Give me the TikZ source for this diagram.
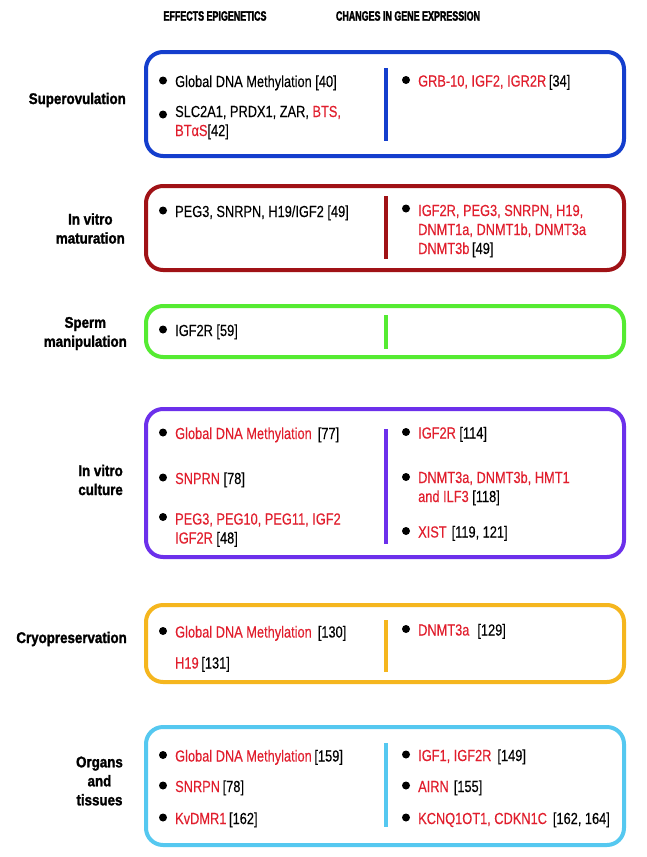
\documentclass[tikz,border=0pt]{standalone}
\usepackage{fontspec}
\setmainfont{Liberation Sans}[FakeStretch=0.8, FakeBold=0.3]
\newfontfamily\labfont{Liberation Sans}[FakeStretch=0.86, FakeBold=1.5]
\newfontfamily\hdrfont{Liberation Sans}[FakeStretch=0.66, FakeBold=2]
\definecolor{cblue}{RGB}{20,62,205}
\definecolor{cdred}{RGB}{160,18,22}
\definecolor{cgreen}{RGB}{85,235,50}
\definecolor{cpurple}{RGB}{108,48,235}
\definecolor{cgold}{RGB}{245,182,30}
\definecolor{clblue}{RGB}{85,200,240}
\definecolor{txtred}{RGB}{225,30,45}
\newcommand\rd[1]{\textcolor{txtred}{#1}}
% name, x, first baseline, text
\newcommand\bitem[4]{%
  \node[bul] (#1b) at (#2-12,#3-6.5) {};
  \node[item] (#1) at (#2,#3) {#4};}
% name, x, first baseline, last baseline, text (multi-line)
\newcommand\mitem[5]{%
  \node[bul] (#1b) at (#2-12,#3-6.5) {};
  \node[item] (#1) at (#2,#4) {#5};}
\begin{document}
\begin{tikzpicture}[x=1pt,y=-1pt,
  box/.style={draw, line width=4pt, rounded corners=17pt},
  divider/.style={line width=3.5pt},
  item/.style={anchor=base west, inner sep=0pt, align=left, text=black,
    font=\fontsize{16}{19}\selectfont},
  bul/.style={circle, fill=black, inner sep=0pt, minimum size=8pt},
  lab/.style={font=\labfont\bfseries\fontsize{15.5}{19}\selectfont, align=center, inner sep=0pt, anchor=east},
  hdr/.style={font=\hdrfont\bfseries\fontsize{13.5}{15}\selectfont, inner sep=0pt, anchor=center}
]
\useasboundingbox[fill=white] (0,0) rectangle (646,857);

% headers
\node[hdr] (h1) at (215,16) {EFFECTS EPIGENETICS};
\node[hdr] (h2) at (408,16) {CHANGES IN GENE EXPRESSION};

% row labels
\node[lab] (l1) at (126,100) {Superovulation};
\node[lab] (l2) at (125,228.5) {In vitro\\maturation};
\node[lab] (l3) at (127,333.5) {Sperm\\manipulation};
\node[lab, align=right] (l4) at (123,480) {In vitro\\culture};
\node[lab] (l5) at (127,639) {Cryopreservation};
\node[lab] (l6) at (123,781) {Organs\\and\\tissues};

% boxes
\draw[box, cblue]   (146,52)  rectangle (624,156);
\draw[box, cdred]   (146,186) rectangle (624,270);
\draw[box, cgreen]  (146,306) rectangle (624,357);
\draw[box, cpurple] (146,409) rectangle (624,557);
\draw[box, cgold]   (146,605) rectangle (624,682);
\draw[box, clblue]  (146,727) rectangle (624,845);

% dividers
\draw[divider, cblue]   (386,68)  -- (386,141);
\draw[divider, cdred]   (386,196) -- (386,259);
\draw[divider, cgreen]  (386,315) -- (386,349);
\draw[divider, cpurple] (386,429) -- (386,544);
\draw[divider, cgold]   (386,620) -- (386,672);
\draw[divider, clblue]  (386,743) -- (386,827);

% box 1
\bitem{a1}{175}{87}{Global DNA Methylation [40]}
\mitem{a2}{175}{121}{136}{\fontsize{16}{15}\selectfont SLC2A1, PRDX1, ZAR, \rd{BTS,}\\\rd{BTαS}[42]}
\bitem{a3}{418}{86.5}{\rd{GRB-10, IGF2, IGR2R}\,[34]}

% box 2
\bitem{b1}{175}{217}{PEG3, SNRPN, H19/IGF2 [49]}
\mitem{b2}{418}{215}{254}{\fontsize{16}{19.5}\selectfont\rd{IGF2R, PEG3, SNRPN, H19,}\\\rd{DNMT1a, DNMT1b, DNMT3a}\\\rd{DNMT3b}\,[49]}

% box 3
\bitem{c1}{175}{336}{IGF2R [59]}

% box 4
\bitem{d1}{175}{439}{\rd{Global DNA Methylation}\hspace{6pt}[77]}
\bitem{d2}{175}{484}{\rd{SNPRN} [78]}
\mitem{d3}{175}{523.5}{543.5}{\fontsize{16}{20}\selectfont\rd{PEG3, PEG10, PEG11, IGF2}\\\rd{IGF2R} [48]}
\bitem{d4}{418}{438.5}{\rd{IGF2R} [114]}
\mitem{d5}{418}{483.5}{502}{\fontsize{16}{18.5}\selectfont\rd{DNMT3a, DNMT3b, HMT1}\\\rd{and ILF3} [118]}
\bitem{d6}{418}{537.5}{\rd{XIST}\hspace{5pt}[119, 121]}

% box 5
\bitem{e1}{175}{637.5}{\rd{Global DNA Methylation}\hspace{6pt}[130]}
\node[item] (e2) at (175,668.5) {\rd{H19}\,[131]};
\bitem{e3}{418}{635.5}{\rd{DNMT3a}\hspace{8pt}[129]}

% box 6
\bitem{f1}{175}{761.5}{\rd{Global DNA Methylation}\,[159]}
\bitem{f2}{175}{792}{\rd{SNRPN}\,[78]}
\bitem{f3}{175}{824}{\rd{KvDMR1}\,[162]}
\bitem{f4}{418}{761}{\rd{IGF1, IGF2R}\hspace{6pt}[149]}
\bitem{f5}{418}{792}{\rd{AIRN}\hspace{5pt}[155]}
\bitem{f6}{418}{824}{\rd{KCNQ1OT1, CDKN1C}\hspace{6pt}[162, 164]}
\end{tikzpicture}
\end{document}
